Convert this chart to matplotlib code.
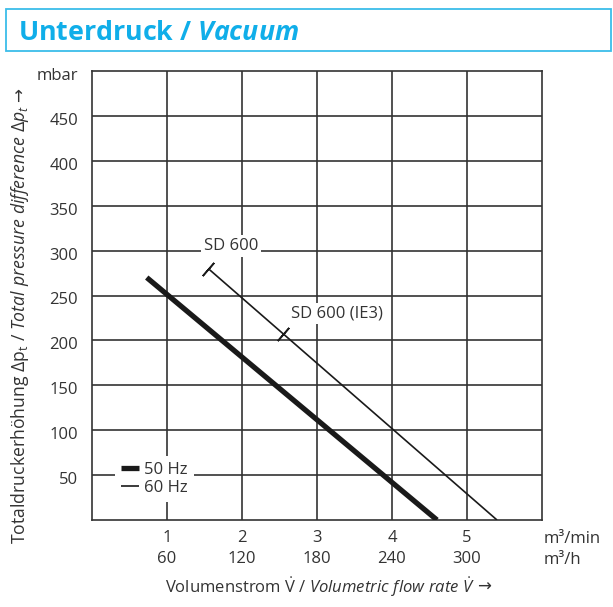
import numpy as np
import matplotlib
matplotlib.use("Agg")
import matplotlib.pyplot as plt
from matplotlib.patches import Rectangle
from matplotlib.transforms import ScaledTranslation

plt.rcParams["font.family"] = ["Open Sans", "DejaVu Sans"]
plt.rcParams["mathtext.fontset"] = "custom"
plt.rcParams["mathtext.rm"] = "Open Sans"
plt.rcParams["mathtext.it"] = "Open Sans:italic"
plt.rcParams["mathtext.bf"] = "Open Sans:bold"
plt.rcParams["mathtext.bfit"] = "Open Sans:italic:bold"

BLUE = "#10aee9"
FRAME = "#3cbde9"
INK = "#333333"
LINE = "#1a1a1a"

# ---------------------------------------------------------------
# Daten
# ---------------------------------------------------------------
flow_min_ticks = [1, 2, 3, 4, 5]           # m³/min
flow_h_ticks = [60, 120, 180, 240, 300]    # m³/h
dp_ticks = [50, 100, 150, 200, 250, 300, 350, 400, 450]

hz50_flow = [0.73, 4.60]
hz50_dp = [270, 0]
hz60_flow = [1.55, 5.40]
hz60_dp = [280, 0]

ie3_flow = 2.55     # Markierung SD 600 (IE3) auf der 60-Hz-Kennlinie

# ---------------------------------------------------------------
fig = plt.figure(figsize=(6.13, 6.07), dpi=100)
ax = fig.add_axes([92 / 613, 1 - 520 / 607, 450 / 613, 449 / 607])
ax.set_xlim(0, 6)
ax.set_ylim(0, 500)

ax.grid(True, color=INK, linewidth=1.2)
for sp in ax.spines.values():
    sp.set_color(INK)
    sp.set_linewidth(1.2)

ax.set_xticks(flow_min_ticks)
ax.set_xticklabels([f"{m}\n{h}" for m, h in zip(flow_min_ticks, flow_h_ticks)],
                   linespacing=1.45)
ax.set_yticks(dp_ticks + [500])
ax.set_yticklabels([str(v) for v in dp_ticks] + ["mbar"], va="center_baseline")
ax.tick_params(length=0, labelsize=12, colors=INK)
ax.tick_params(axis="y", pad=10)
ax.tick_params(axis="x", pad=7)
shift = ScaledTranslation(0, -3 / 100, fig.dpi_scale_trans)
for lab in ax.get_yticklabels():
    lab.set_transform(lab.get_transform() + shift)
ax.yaxis.get_gridlines()[-1].set_visible(False)

ax.text(1.004, -0.0245, "m³/min\nm³/h", transform=ax.transAxes, ha="left",
        va="top", fontsize=12, color=INK, linespacing=1.45)

# Kennlinien
ax.plot(hz50_flow, hz50_dp, color=LINE, linewidth=3.8, solid_capstyle="butt",
        zorder=4, label="50 Hz")
ax.plot(hz60_flow, hz60_dp, color=LINE, linewidth=1.2, solid_capstyle="butt",
        zorder=4, label="60 Hz")

# Querstriche (Markierungen)
p0 = ax.transData.transform((hz60_flow[0], hz60_dp[0]))
p1 = ax.transData.transform((hz60_flow[1], hz60_dp[1]))
ang = np.degrees(np.arctan2(p1[1] - p0[1], p1[0] - p0[0]))
ie3_dp = hz60_dp[0] + (hz60_dp[1] - hz60_dp[0]) * \
    (ie3_flow - hz60_flow[0]) / (hz60_flow[1] - hz60_flow[0])
ax.plot([hz60_flow[0], ie3_flow], [hz60_dp[0], ie3_dp], linestyle="none",
        marker=(2, 2, ang), markersize=12.5, markeredgewidth=1.2,
        markeredgecolor=LINE, zorder=4)

box = dict(facecolor="white", edgecolor="none", pad=2)
ax.text(1.85, 305, "SD 600", ha="center", va="center", fontsize=12,
        color=INK, bbox=box, zorder=3)
ax.text(3.27, 230, "SD 600 (IE3)", ha="center", va="center", fontsize=12,
        color=INK, bbox=box, zorder=3)

leg = ax.legend(loc="lower left", bbox_to_anchor=(0.051, 0.04),
                borderaxespad=0, frameon=True, fancybox=False, framealpha=1,
                edgecolor="none", facecolor="white", fontsize=12,
                handlelength=1.1, handletextpad=0.3, labelspacing=0.12,
                borderpad=0.35)
for t in leg.get_texts():
    t.set_color(INK)

# Achsenbeschriftungen (Pfeil separat, da Open Sans kein → hat)
xl = fig.text(320 / 613, 1 - 587 / 607,
              r"Volumenstrom $\dot{\mathrm{V}}$ / $\mathit{Volumetric\ flow\ rate\ \dot{V}}$",
              ha="center", va="center", fontsize=12, color=INK)
yl = fig.text(20 / 613, 1 - 324 / 607,
              r"Totaldruckerhöhung $\Delta\mathrm{p}_{\mathrm{t}}$ / "
              r"$\mathit{Total\ pressure\ difference\ \Delta p_{t}}$",
              ha="center", va="center", rotation=90, fontsize=12.7, color=INK)

# Kopfzeile
fig.patches.append(Rectangle((6 / 613, 1 - 51 / 607), 605 / 613, 42 / 607,
                             transform=fig.transFigure, facecolor="white",
                             edgecolor=FRAME, linewidth=1.3))
fig.text(18 / 613, 1 - 39.5 / 607, r"Unterdruck / $\mathbfit{Vacuum}$",
         ha="left", va="baseline", fontsize=19.3, fontweight="bold", color=BLUE)

fig.canvas.draw()
r = fig.canvas.get_renderer()
inv = fig.transFigure.inverted()
bx = xl.get_window_extent(r)
x0, yc = inv.transform((bx.x1 + 2, (bx.y0 + bx.y1) / 2))
fig.text(x0, yc, "→", family="DejaVu Sans", ha="left", va="center",
         fontsize=12, color=INK)
by = yl.get_window_extent(r)
xc, y0 = inv.transform(((by.x0 + by.x1) / 2, by.y1 + 2))
fig.text(xc, y0, "→", family="DejaVu Sans", ha="center", va="bottom",
         rotation=90, fontsize=12, color=INK)

fig.savefig("out.png", dpi=100)
